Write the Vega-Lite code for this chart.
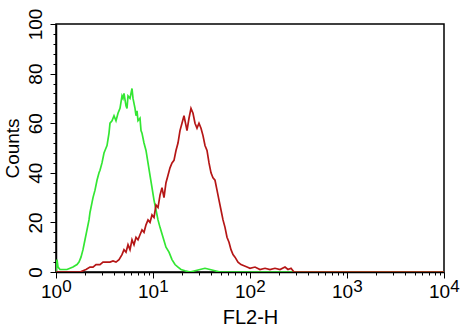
{
  "$schema": "https://vega.github.io/schema/vega-lite/v6.json",
  "width": 388,
  "height": 248,
  "autosize": "none",
  "padding": {"left": 56, "top": 24, "right": 24, "bottom": 57},
  "background": "white",
  "config": {
    "view": {"stroke": "black", "strokeWidth": 1.5},
    "font": "Liberation Sans"
  },
  "datasets": {
    "control": [
      {"fl2": 1.000, "count": 0}, {"fl2": 1.024, "count": 5}, {"fl2": 1.049, "count": 2}, {"fl2": 1.100, "count": 1},
      {"fl2": 1.181, "count": 1}, {"fl2": 1.298, "count": 1}, {"fl2": 1.394, "count": 1.5}, {"fl2": 1.497, "count": 2},
      {"fl2": 1.570, "count": 2.5}, {"fl2": 1.646, "count": 3}, {"fl2": 1.726, "count": 4}, {"fl2": 1.810, "count": 6},
      {"fl2": 1.898, "count": 9}, {"fl2": 1.990, "count": 13}, {"fl2": 2.087, "count": 17}, {"fl2": 2.189, "count": 21},
      {"fl2": 2.241, "count": 24}, {"fl2": 2.350, "count": 28}, {"fl2": 2.407, "count": 30}, {"fl2": 2.524, "count": 33},
      {"fl2": 2.647, "count": 37}, {"fl2": 2.775, "count": 40}, {"fl2": 2.842, "count": 41}, {"fl2": 2.980, "count": 44},
      {"fl2": 3.125, "count": 48}, {"fl2": 3.277, "count": 50}, {"fl2": 3.356, "count": 51}, {"fl2": 3.519, "count": 56},
      {"fl2": 3.604, "count": 60}, {"fl2": 3.779, "count": 61}, {"fl2": 3.963, "count": 63}, {"fl2": 4.155, "count": 61},
      {"fl2": 4.357, "count": 64}, {"fl2": 4.569, "count": 66}, {"fl2": 4.791, "count": 71}, {"fl2": 4.906, "count": 70},
      {"fl2": 5.024, "count": 72}, {"fl2": 5.268, "count": 67}, {"fl2": 5.395, "count": 66}, {"fl2": 5.524, "count": 71},
      {"fl2": 5.793, "count": 70}, {"fl2": 6.075, "count": 74}, {"fl2": 6.221, "count": 70}, {"fl2": 6.523, "count": 66},
      {"fl2": 6.680, "count": 63}, {"fl2": 6.840, "count": 65}, {"fl2": 7.005, "count": 61}, {"fl2": 7.345, "count": 62},
      {"fl2": 7.522, "count": 57}, {"fl2": 7.702, "count": 56}, {"fl2": 8.077, "count": 52}, {"fl2": 8.469, "count": 49},
      {"fl2": 8.881, "count": 44}, {"fl2": 9.313, "count": 39}, {"fl2": 9.766, "count": 34}, {"fl2": 10.24, "count": 29},
      {"fl2": 10.74, "count": 25}, {"fl2": 11.26, "count": 21}, {"fl2": 11.81, "count": 18}, {"fl2": 12.68, "count": 14},
      {"fl2": 13.61, "count": 10}, {"fl2": 14.62, "count": 8}, {"fl2": 15.70, "count": 5}, {"fl2": 16.86, "count": 3},
      {"fl2": 18.10, "count": 2}, {"fl2": 19.44, "count": 1}, {"fl2": 21.38, "count": 0.5}, {"fl2": 24.07, "count": 0},
      {"fl2": 27.10, "count": 0.5}, {"fl2": 30.52, "count": 1}, {"fl2": 34.36, "count": 1.5}, {"fl2": 38.70, "count": 1},
      {"fl2": 43.57, "count": 0.5}, {"fl2": 49.06, "count": 0}, {"fl2": 10000, "count": 0}
    ],
    "stained": [
      {"fl2": 1.000, "count": 0}, {"fl2": 1.768, "count": 0}, {"fl2": 1.898, "count": 0.5}, {"fl2": 2.038, "count": 1},
      {"fl2": 2.241, "count": 2}, {"fl2": 2.407, "count": 2}, {"fl2": 2.585, "count": 3}, {"fl2": 2.842, "count": 3},
      {"fl2": 3.052, "count": 4}, {"fl2": 3.277, "count": 4}, {"fl2": 3.604, "count": 4}, {"fl2": 3.870, "count": 4.5},
      {"fl2": 4.155, "count": 4}, {"fl2": 4.462, "count": 5}, {"fl2": 4.791, "count": 7}, {"fl2": 5.024, "count": 9},
      {"fl2": 5.268, "count": 8}, {"fl2": 5.524, "count": 11}, {"fl2": 5.793, "count": 9}, {"fl2": 6.075, "count": 13},
      {"fl2": 6.370, "count": 11}, {"fl2": 6.680, "count": 14}, {"fl2": 7.005, "count": 13}, {"fl2": 7.345, "count": 15},
      {"fl2": 7.702, "count": 17}, {"fl2": 8.077, "count": 16}, {"fl2": 8.469, "count": 19}, {"fl2": 8.881, "count": 21},
      {"fl2": 9.313, "count": 20}, {"fl2": 9.766, "count": 23}, {"fl2": 10.24, "count": 22}, {"fl2": 10.74, "count": 27},
      {"fl2": 11.26, "count": 26}, {"fl2": 11.81, "count": 31}, {"fl2": 12.38, "count": 34}, {"fl2": 12.98, "count": 30},
      {"fl2": 13.61, "count": 36}, {"fl2": 14.28, "count": 39}, {"fl2": 14.97, "count": 42}, {"fl2": 15.70, "count": 44},
      {"fl2": 16.46, "count": 45}, {"fl2": 17.26, "count": 49}, {"fl2": 18.10, "count": 52}, {"fl2": 18.98, "count": 57},
      {"fl2": 19.90, "count": 60}, {"fl2": 20.87, "count": 63}, {"fl2": 21.89, "count": 59}, {"fl2": 22.41, "count": 57},
      {"fl2": 23.50, "count": 62}, {"fl2": 24.64, "count": 66}, {"fl2": 25.85, "count": 64}, {"fl2": 27.10, "count": 60},
      {"fl2": 28.42, "count": 58}, {"fl2": 29.80, "count": 60}, {"fl2": 31.25, "count": 58}, {"fl2": 32.77, "count": 55},
      {"fl2": 34.36, "count": 51}, {"fl2": 36.04, "count": 49}, {"fl2": 37.79, "count": 44}, {"fl2": 39.63, "count": 40},
      {"fl2": 41.55, "count": 38}, {"fl2": 43.57, "count": 37}, {"fl2": 45.69, "count": 33}, {"fl2": 47.91, "count": 29},
      {"fl2": 50.24, "count": 25}, {"fl2": 52.68, "count": 21}, {"fl2": 55.24, "count": 18}, {"fl2": 57.93, "count": 14},
      {"fl2": 60.75, "count": 12}, {"fl2": 63.70, "count": 9}, {"fl2": 66.80, "count": 7}, {"fl2": 70.05, "count": 6},
      {"fl2": 75.22, "count": 4}, {"fl2": 80.77, "count": 3}, {"fl2": 86.73, "count": 2.5}, {"fl2": 93.13, "count": 2},
      {"fl2": 100, "count": 1.5}, {"fl2": 112.6, "count": 2}, {"fl2": 126.8, "count": 1}, {"fl2": 142.8, "count": 1.5},
      {"fl2": 160.7, "count": 1}, {"fl2": 181.0, "count": 1.5}, {"fl2": 203.8, "count": 1}, {"fl2": 229.5, "count": 2},
      {"fl2": 246.4, "count": 1}, {"fl2": 264.7, "count": 1.5}, {"fl2": 284.2, "count": 0}, {"fl2": 10000, "count": 0}
    ],
    "decades": [
      {"fl2": 1, "count": 0, "exp": "0"}, {"fl2": 10, "count": 0, "exp": "1"}, {"fl2": 100, "count": 0, "exp": "2"},
      {"fl2": 1000, "count": 0, "exp": "3"}, {"fl2": 10000, "count": 0, "exp": "4"}
    ]
  },
  "encoding": {
    "x": {
      "field": "fl2", "type": "quantitative",
      "scale": {"type": "log", "domain": [1, 10000], "nice": false},
      "axis": {
        "title": "FL2-H", "titleFontSize": 20, "titleFontWeight": "normal", "titleColor": "black", "titlePadding": 6,
        "values": [1,2,3,4,5,6,7,8,9,10,20,30,40,50,60,70,80,90,100,200,300,400,500,600,700,800,900,1000,2000,3000,4000,5000,6000,7000,8000,9000,10000],
        "labelExpr": "indexof([1,10,100,1000,10000], datum.value) >= 0 ? '10' : ''",
        "labelFontSize": 19, "labelColor": "black", "labelPadding": 4, "labelOffset": -5, "labelFlush": false, "labelOverlap": false,
        "tickSize": {"condition": {"test": "indexof([1,10,100,1000,10000], datum.value) >= 0", "value": 6}, "value": 3},
        "tickColor": "black", "domainColor": "black", "domainWidth": 1.5, "grid": false
      }
    },
    "y": {
      "field": "count", "type": "quantitative",
      "scale": {"domain": [0, 100], "nice": false},
      "axis": {
        "title": "Counts", "titleFontSize": 19, "titleFontWeight": "normal", "titleColor": "black", "titlePadding": 4,
        "values": [0,4,8,12,16,20,24,28,32,36,40,44,48,52,56,60,64,68,72,76,80,84,88,92,96,100],
        "labelExpr": "datum.value % 20 === 0 ? datum.label : ''",
        "labelFontSize": 19, "labelColor": "black", "labelAngle": -90, "labelAlign": "center", "labelBaseline": "bottom",
        "labelPadding": 5, "labelFlush": false, "labelOverlap": false,
        "tickSize": {"condition": {"test": "datum.value % 20 === 0", "value": 6}, "value": 3},
        "tickColor": "black", "domainColor": "black", "domainWidth": 1.5, "grid": false
      }
    }
  },
  "layer": [
    {
      "data": {"name": "control"},
      "mark": {"type": "line", "color": "#33e633", "strokeWidth": 1.7, "clip": true}
    },
    {
      "data": {"name": "stained"},
      "mark": {"type": "line", "color": "#b51616", "strokeWidth": 1.7, "clip": true}
    },
    {
      "data": {"name": "decades"},
      "mark": {"type": "text", "fontSize": 17, "color": "black", "fill": "black", "align": "center", "baseline": "top", "dx": 11, "dy": 7, "clip": false},
      "encoding": {
        "text": {"field": "exp", "type": "nominal"}
      }
    }
  ]
}
